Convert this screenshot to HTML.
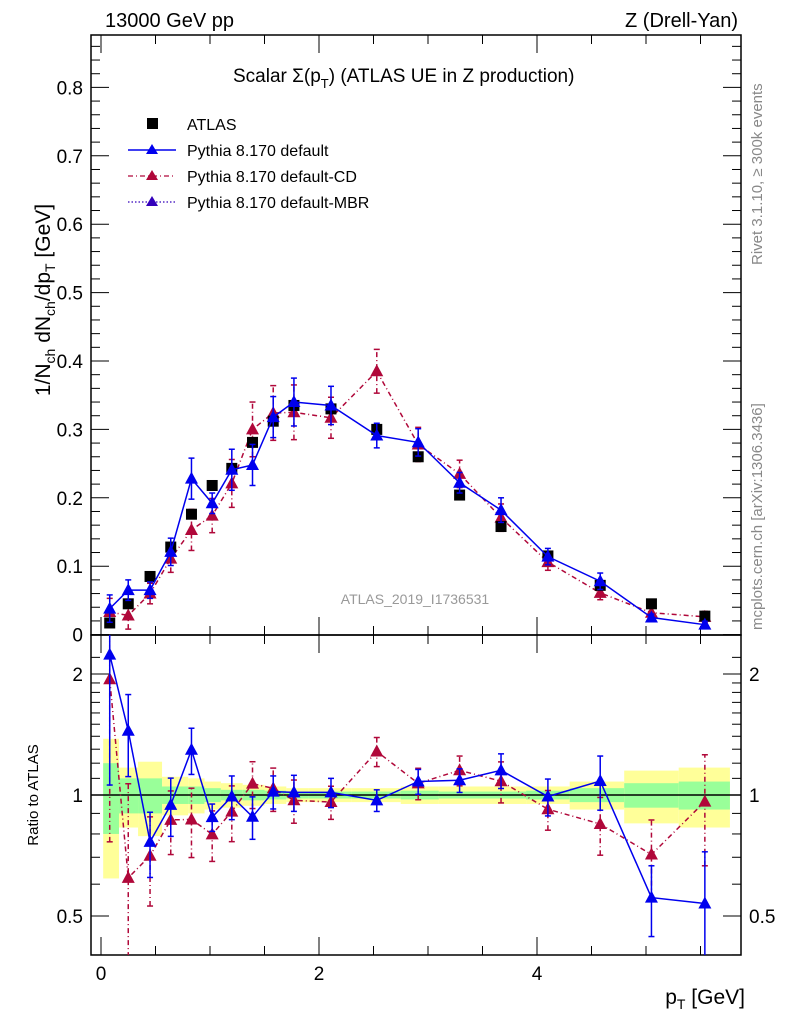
<!DOCTYPE html>
<html><head><meta charset="utf-8"><style>
body{margin:0;background:#fff;}
svg{display:block;font-family:"Liberation Sans",sans-serif;}
</style></head><body>
<svg id="c" width="786" height="1024" viewBox="0 0 786 1024">
<g id="bands"></g>
<g id="axes"></g>
<g id="marks"></g>
<text x="105" y="27" font-size="20">13000 GeV pp</text>
<text x="738" y="27" font-size="20" text-anchor="end">Z (Drell-Yan)</text>
<text x="233" y="82" font-size="19">Scalar Σ(p<tspan font-size="13" dy="6">T</tspan><tspan dy="-6">) (ATLAS UE in Z production)</tspan></text>
<g font-size="16">
<rect x="147" y="118" width="11" height="11" fill="#000"/>
<text x="187" y="130">ATLAS</text>
<line x1="128" y1="150" x2="176" y2="150" stroke="#0000ee" stroke-width="1.5"/>
<polygon points="152,144 146,154 158,154" fill="#0000ee"/>
<text x="187" y="156">Pythia 8.170 default</text>
<line x1="128" y1="176" x2="176" y2="176" stroke="#b0083a" stroke-width="1.3" stroke-dasharray="5,3,1,3"/>
<polygon points="152,170 146,180 158,180" fill="#b0083a"/>
<text x="187" y="182">Pythia 8.170 default-CD</text>
<line x1="128" y1="202" x2="176" y2="202" stroke="#3300bb" stroke-width="1.3" stroke-dasharray="1.5,2"/>
<polygon points="152,196 146,206 158,206" fill="#3300bb"/>
<text x="187" y="208">Pythia 8.170 default-MBR</text>
</g>
<text x="415" y="604" font-size="14" fill="#999" text-anchor="middle">ATLAS_2019_I1736531</text>
<text transform="translate(762,265) rotate(-90)" font-size="15" fill="#888">Rivet 3.1.10, ≥ 300k events</text>
<text transform="translate(762,630) rotate(-90)" font-size="15" fill="#888">mcplots.cern.ch [arXiv:1306.3436]</text>
<text transform="translate(50,300) rotate(-90)" font-size="21" text-anchor="middle">1/N<tspan font-size="14" dy="5">ch</tspan><tspan dy="-5"> dN</tspan><tspan font-size="14" dy="5">ch</tspan><tspan dy="-5">/dp</tspan><tspan font-size="14" dy="5">T</tspan><tspan dy="-5"> [GeV]</tspan></text>
<text transform="translate(38,795) rotate(-90)" font-size="15" text-anchor="middle">Ratio to ATLAS</text>
<text x="745" y="1004" font-size="21" text-anchor="end">p<tspan font-size="14" dy="5">T</tspan><tspan dy="-5"> [GeV]</tspan></text>
</svg>
<script>
const xVals=[0.08,0.25,0.45,0.64,0.83,1.02,1.2,1.39,1.58,1.77,2.11,2.53,2.91,3.29,3.67,4.1,4.58,5.05,5.54];
const atlas=[0.017,0.045,0.085,0.128,0.176,0.218,0.243,0.281,0.312,0.335,0.330,0.300,0.260,0.204,0.158,0.115,0.072,0.045,0.027];
const pyDef=[0.038,0.065,0.065,0.121,0.228,0.192,0.241,0.248,0.318,0.340,0.335,0.291,0.281,0.222,0.182,0.114,0.078,0.025,0.0145];
const pyDefErr=[0.02,0.015,0.012,0.02,0.03,0.015,0.03,0.03,0.03,0.035,0.028,0.018,0.02,0.015,0.018,0.012,0.012,0.005,0.005];
const pyCD=[0.033,0.028,0.060,0.111,0.153,0.174,0.221,0.300,0.324,0.325,0.317,0.385,0.278,0.235,0.171,0.106,0.061,0.032,0.026];
const pyCDErr=[0.02,0.02,0.015,0.02,0.03,0.025,0.035,0.04,0.04,0.04,0.03,0.032,0.025,0.02,0.02,0.012,0.01,0.007,0.008];
const binEdges=[0.02,0.165,0.34,0.56,0.8,0.95,1.1,1.3,1.5,1.7,1.9,2.3,2.75,3.1,3.5,3.9,4.3,4.8,5.3,5.77];
const yellowBand=[0.38,0.17,0.21,0.11,0.1,0.08,0.07,0.06,0.05,0.04,0.04,0.04,0.05,0.05,0.05,0.05,0.08,0.15,0.17];
const greenBand=[0.2,0.1,0.1,0.05,0.05,0.04,0.03,0.03,0.025,0.02,0.02,0.02,0.025,0.02,0.02,0.025,0.04,0.07,0.08];
const yTicks=[0,0.1,0.2,0.3,0.4,0.5,0.6,0.7,0.8];
const xTicks=[0,2,4];
const rTicks=[0.5,1,2];

const NS="http://www.w3.org/2000/svg";
const L=91,R=741,T=35,MB=635,RB=955;
const X=v=>101+109*v;
const Y=v=>634.6-684*v;
const RY=r=>795-121*Math.log2(r);
function mk(p,tag,at){const e=document.createElementNS(NS,tag);for(const k in at)e.setAttribute(k,at[k]);p.appendChild(e);return e;}
const bands=document.getElementById('bands'),axes=document.getElementById('axes'),marks=document.getElementById('marks');

for(let i=0;i<yellowBand.length;i++){
  const x0=X(binEdges[i]),x1=X(binEdges[i+1]);
  const y=mk(bands,'rect',{x:x0,y:RY(1+yellowBand[i]),width:x1-x0,height:RY(1-yellowBand[i])-RY(1+yellowBand[i]),fill:'#ffff99'});
  
  
  const g=mk(bands,'rect',{x:x0,y:RY(1+greenBand[i]),width:x1-x0,height:RY(1-greenBand[i])-RY(1+greenBand[i]),fill:'#99ff99'});
  
  
}
mk(bands,'line',{x1:L,x2:R,y1:RY(1),y2:RY(1),stroke:'#000','stroke-width':1.5});

const f1=mk(axes,'rect',{x:L,y:T,width:R-L,height:MB-T,fill:'none',stroke:'#000','stroke-width':1.5});


const f2=mk(axes,'rect',{x:L,y:MB,width:R-L,height:RB-MB,fill:'none',stroke:'#000','stroke-width':1.5});



for(let v=0;v<=0.88;v+=0.02){
  const maj=Math.abs(v*10-Math.round(v*10))<1e-6;const len=maj?18:9;const y=Y(v);
  mk(axes,'line',{x1:L,x2:L+len,y1:y,y2:y,stroke:'#000'});
  mk(axes,'line',{x1:R,x2:R-len,y1:y,y2:y,stroke:'#000'});
}
yTicks.forEach(v=>{const t=mk(axes,'text',{x:L-8,y:Y(v)+7,'font-size':19,'text-anchor':'end'});t.textContent=v===0?'0':v.toFixed(1);

});
for(let v=0;v<=5.8;v+=0.5){
  const maj=Math.abs(v%2)<1e-6;const len=maj?18:9;const x=X(v);
  mk(axes,'line',{x1:x,x2:x,y1:MB,y2:MB-len,stroke:'#000'});
  mk(axes,'line',{x1:x,x2:x,y1:T,y2:T+len,stroke:'#000'});
  mk(axes,'line',{x1:x,x2:x,y1:RB,y2:RB-len,stroke:'#000'});
  mk(axes,'line',{x1:x,x2:x,y1:MB,y2:MB+len,stroke:'#000'});
}
xTicks.forEach(v=>{const t=mk(axes,'text',{x:X(v),y:RB+25,'font-size':19,'text-anchor':'middle'});t.textContent=v;

});
[0.4,0.5,0.6,0.7,0.8,0.9,1,1.1,1.2,1.3,1.4,1.5,1.6,1.7,1.8,1.9,2,2.2].forEach(r=>{
  const maj=rTicks.includes(r);const len=maj?18:9;const y=RY(r);if(y<MB||y>RB)return;
  mk(axes,'line',{x1:L,x2:L+len,y1:y,y2:y,stroke:'#000'});
  mk(axes,'line',{x1:R,x2:R-len,y1:y,y2:y,stroke:'#000'});
});
rTicks.forEach(r=>{
  const t=mk(axes,'text',{x:L-8,y:RY(r)+7,'font-size':19,'text-anchor':'end'});t.textContent=r;
  
  
  const t2=mk(axes,'text',{x:R+8,y:RY(r)+7,'font-size':19});t2.textContent=r;
  
  
});

const defs=mk(document.getElementById('c'),'defs',{});
const cp1=mk(defs,'clipPath',{id:'cm'});mk(cp1,'rect',{x:L,y:T,width:R-L,height:MB-T});
const cp2=mk(defs,'clipPath',{id:'cr'});mk(cp2,'rect',{x:L,y:MB,width:R-L,height:RB-MB});
const gm=mk(marks,'g',{'clip-path':'url(#cm)'}),gr=mk(marks,'g',{'clip-path':'url(#cr)'});

function tri(p,x,y,c,name){const e=mk(p,'polygon',{points:`${x},${y-7} ${x-6.5},${y+5} ${x+6.5},${y+5}`,fill:c});

}
function series(vals,errs,c,dash,name){
  const mainPts=vals.map((v,i)=>X(xVals[i])+','+Y(v)).join(' ');
  const ratPts=vals.map((v,i)=>X(xVals[i])+','+RY(v/atlas[i])).join(' ');
  const a={fill:'none',stroke:c,'stroke-width':1.5};if(dash)a['stroke-dasharray']=dash;
  const l1=mk(gm,'polyline',Object.assign({points:mainPts},a));
  
  
  const l2=mk(gr,'polyline',Object.assign({points:ratPts},a));
  
  
  vals.forEach((v,i)=>{
    const x=X(xVals[i]);
    const ea={stroke:c,'stroke-width':1.5};if(dash)ea['stroke-dasharray']=dash;
    mk(gm,'line',Object.assign({x1:x,x2:x,y1:Y(v-errs[i]),y2:Y(v+errs[i])},ea));
    [v-errs[i],v+errs[i]].forEach(w=>mk(gm,'line',{x1:x-3,x2:x+3,y1:Y(w),y2:Y(w),stroke:c,'stroke-width':1.5}));
    const r=v/atlas[i],re=errs[i]/atlas[i];
    const lo=Math.max(r-re,0.3);
    mk(gr,'line',Object.assign({x1:x,x2:x,y1:RY(lo),y2:RY(r+re)},ea));
    [lo,r+re].forEach(w=>mk(gr,'line',{x1:x-3,x2:x+3,y1:RY(w),y2:RY(w),stroke:c,'stroke-width':1.5}));
    tri(gm,x,Y(v),c,name+'-point');
    tri(gr,x,RY(r),c,name+'-ratio-point');
  });
}
series(pyCD,pyCDErr,'#b0083a','5,3,1,3','pythia-cd');
atlas.forEach((v,i)=>{const s=mk(gm,'rect',{x:X(xVals[i])-5.5,y:Y(v)-5.5,width:11,height:11,fill:'#000'});

});
series(pyDef,pyDefErr,'#0000ee',null,'pythia-default');
</script>
</body></html>
